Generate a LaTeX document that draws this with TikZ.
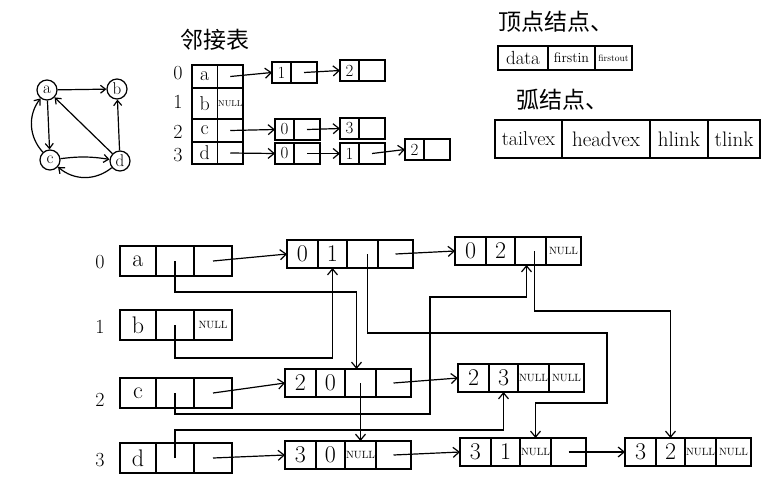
\documentclass[tikz,border=0pt]{standalone}
\usepackage{fontspec}
\newfontfamily\cjkfont{Noto Sans CJK SC}
\usetikzlibrary{arrows.meta,positioning,calc}
\newcommand{\nullptr}{{\fontsize{10.5}{10.5}\selectfont NULL}}
% record of an arc: name, NW corner, tailvex, headvex, hlink, tlink
\newcommand{\arcrec}[6]{%
  \node[cell, minimum width=31pt, anchor=north west] (#1-1) at #2 {#3};
  \node[cell, minimum width=29pt, right=0pt of #1-1] (#1-2) {#4};
  \node[cell, minimum width=31pt, right=0pt of #1-2] (#1-3) {#5};
  \node[cell, minimum width=35pt, right=0pt of #1-3] (#1-4) {#6};
}
% record of a vertex: name, NW corner, data, firstin, firstout
\newcommand{\vertrec}[5]{%
  \node[cell, minimum width=36pt, minimum height=30pt, anchor=north west] (#1-1) at #2 {#3};
  \node[cell, minimum width=38pt, minimum height=30pt, right=0pt of #1-1] (#1-2) {#4};
  \node[cell, minimum width=38pt, minimum height=30pt, right=0pt of #1-2] (#1-3) {#5};
}
% node of the adjacency list: name, NW corner, vertex
\newcommand{\lstrec}[3]{%
  \node[lcell, minimum width=19pt, anchor=north west] (#1-1) at #2 {#3};
  \node[lcell, minimum width=26pt, right=0pt of #1-1] (#1-2) {};
}
\tikzset{
  vert/.style={draw, circle, very thick, minimum size=20pt, inner sep=0pt, font=\fontsize{17}{17}\selectfont},
  edge/.style={-{Straight Barb[length=5pt,width=8pt]}, very thick},
  cell/.style={draw, very thick, inner sep=0pt, outer sep=0pt, minimum height=28pt, font=\fontsize{24}{24}\selectfont},
  tcell/.style={draw, very thick, inner sep=0pt, outer sep=0pt, minimum width=25.5pt, font=\fontsize{20}{20}\selectfont},
  lcell/.style={draw, very thick, inner sep=0pt, outer sep=0pt, minimum height=21pt, font=\fontsize{17}{17}\selectfont},
  hcell/.style={draw, very thick, inner sep=0pt, outer sep=0pt},
  ptr/.style={-{Straight Barb[length=6pt,width=10pt]}, very thick},
  title/.style={font=\cjkfont\fontsize{23}{23}\selectfont},
  idx/.style={font=\fontsize{20}{20}\selectfont}
}
\begin{document}
\begin{tikzpicture}[x=1pt, y=-1pt]
  \useasboundingbox (0,0) rectangle (770,479);
  % the graph
  \node[vert] (ga) at (47,90) {a};
  \node[vert] (gb) at (117,89) {b};
  \node[vert] (gc) at (50,160) {c};
  \node[vert] (gd) at (120,161) {d};
  \draw[edge] (ga) -- (gb);
  \draw[edge] (ga) -- (gc);
  \draw[edge] (gd) -- (ga);
  \draw[edge] (gd) -- (gb);
  \draw[edge] (gc) to[bend left=8] (gd);
  \draw[edge] (gd) to[bend left=40] (gc);
  \draw[edge] (gc) to[bend left=40] (ga);
  % adjacency list
  \node[title] (ttab) at (215,40) {邻接表};
  \node[tcell, minimum height=23pt, anchor=north west] (t0d) at (192,65) {a};
  \node[tcell, minimum height=23pt, right=0pt of t0d] (t0p) {};
  \node[tcell, minimum height=31pt, below=0pt of t0d] (t1d) {b};
  \node[tcell, minimum height=31pt, right=0pt of t1d, font=\fontsize{8.5}{8.5}\selectfont] (t1p) {NULL};
  \node[tcell, minimum height=23pt, below=0pt of t1d] (t2d) {c};
  \node[tcell, minimum height=23pt, right=0pt of t2d] (t2p) {};
  \node[tcell, minimum height=22pt, below=0pt of t2d] (t3d) {d};
  \node[tcell, minimum height=22pt, right=0pt of t3d] (t3p) {};
  \node[idx] (ti0) at (178,73) {0};
  \node[idx] (ti1) at (178,102) {1};
  \node[idx] (ti2) at (178,132) {2};
  \node[idx] (ti3) at (178,155) {3};
  \lstrec{l01}{(272,62)}{1}
  \lstrec{l02}{(340,60)}{2}
  \lstrec{l21}{(275,119)}{0}
  \lstrec{l23}{(340,118)}{3}
  \lstrec{l30}{(275,143)}{0}
  \lstrec{l31}{(340,143)}{1}
  \lstrec{l32}{(405,139)}{2}
  \draw[ptr] (t0p.center) -- (l01-1.west);
  \draw[ptr] (l01-2.center) -- (l02-1.west);
  \draw[ptr] (t2p.center) -- (l21-1.west);
  \draw[ptr] (l21-2.center) -- (l23-1.west);
  \draw[ptr] (t3p.center) -- (l30-1.west);
  \draw[ptr] (l30-2.center) -- (l31-1.west);
  \draw[ptr] (l31-2.center) -- (l32-1.west);
  % node layouts
  \node[title] (tvert) at (556,22) {顶点结点、};
  \node[hcell, minimum width=50pt, minimum height=24pt, anchor=north west, font=\fontsize{19}{19}\selectfont] (h1) at (498,46) {data};
  \node[hcell, minimum width=47pt, minimum height=24pt, right=0pt of h1, font=\fontsize{14}{14}\selectfont] (h2) {firstin};
  \node[hcell, minimum width=37pt, minimum height=24pt, right=0pt of h2, font=\fontsize{9.5}{9.5}\selectfont] (h3) {firstout};
  \node[title] (tarc) at (562,100) {弧结点、};
  \node[hcell, minimum width=67pt, minimum height=38pt, anchor=north west, font=\fontsize{20}{20}\selectfont] (k1) at (495,120) {tailvex};
  \node[hcell, minimum width=88pt, minimum height=38pt, right=0pt of k1, font=\fontsize{21}{21}\selectfont] (k2) {headvex};
  \node[hcell, minimum width=58pt, minimum height=38pt, right=0pt of k2, font=\fontsize{21}{21}\selectfont] (k3) {hlink};
  \node[hcell, minimum width=52pt, minimum height=38pt, right=0pt of k3, font=\fontsize{21}{21}\selectfont] (k4) {tlink};
  % orthogonal list
  \node[idx] (i0) at (100,262) {0};
  \node[idx] (i1) at (100,327) {1};
  \node[idx] (i2) at (100,400) {2};
  \node[idx] (i3) at (100,460) {3};
  \vertrec{va}{(120,246)}{a}{}{}
  \vertrec{vb}{(120,310)}{b}{}{\nullptr}
  \vertrec{vc}{(120,378)}{c}{}{}
  \vertrec{vd}{(120,443)}{d}{}{}
  \arcrec{r01}{(287,240)}{0}{1}{}{}
  \arcrec{r02}{(455,237)}{0}{2}{}{\nullptr}
  \arcrec{r20}{(285,369)}{2}{0}{}{}
  \arcrec{r23}{(458,364)}{2}{3}{\nullptr}{\nullptr}
  \arcrec{r30}{(285,441)}{3}{0}{\nullptr}{}
  \arcrec{r31}{(460,438)}{3}{1}{\nullptr}{}
  \arcrec{r32}{(625,438)}{3}{2}{\nullptr}{\nullptr}
  % tlink / firstout
  \draw[ptr] (va-3.center) -- (r01-1.west);
  \draw[ptr] (r01-4.center) -- (r02-1.west);
  \draw[ptr] (vc-3.center) -- (r20-1.west);
  \draw[ptr] (r20-4.center) -- (r23-1.west);
  \draw[ptr] (vd-3.center) -- (r30-1.west);
  \draw[ptr] (r30-4.center) -- (r31-1.west);
  \draw[ptr] (r31-4.center) -- (r32-1.west);
  % hlink / firstin
  \draw[ptr] (va-2.center) -- ++(0,31) -| ([xshift=-4pt]r20-3.north);
  \draw[ptr] (r20-3.center) -- (r30-3.north);
  \draw[ptr] (vb-2.center) -- ++(0,33) -| (r01-2.south);
  \draw[ptr] ([xshift=5pt]r01-3.center) -- ++(0,79) -- (607,333) -- (607,403) -| (r31-3.north);
  \draw[ptr] (vc-2.center) -- ++(0,21) -- (430,414) -- (430,297) -| ([xshift=-4pt]r02-3.south);
  \draw[ptr] ([xshift=4pt]r02-3.center) -- ++(0,60) -| (r32-2.north);
  \draw[ptr] (vd-2.center) -- ++(0,-28) -| (r23-2.south);
\end{tikzpicture}
\end{document}
